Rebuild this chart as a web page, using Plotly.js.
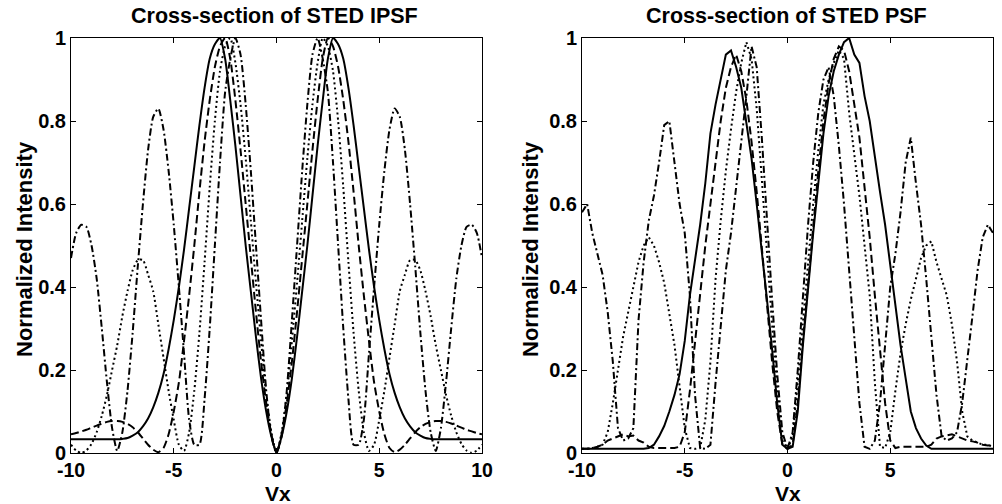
<!DOCTYPE html>
<html>
<head>
<meta charset="utf-8">
<script src="https://cdn.plot.ly/plotly-3.0.1.min.js"></script>
<style>
  html, body { margin: 0; padding: 0; background: #ffffff; }
  #chart { width: 1002px; height: 504px; }
</style>
</head>
<body>
<div id="chart"></div>
<script>
// ---------- data ----------
const Vx = [-10,-9.75,-9.5,-9.25,-9,-8.75,-8.5,-8.25,-8,-7.75,-7.5,-7.25,-7,-6.75,-6.5,-6.25,-6,-5.75,-5.5,-5.25,-5,-4.75,-4.5,-4.25,-4,-3.75,-3.5,-3.25,-3,-2.75,-2.5,-2.25,-2,-1.75,-1.5,-1.25,-1,-0.75,-0.5,-0.25,0,0.25,0.5,0.75,1,1.25,1.5,1.75,2,2.25,2.5,2.75,3,3.25,3.5,3.75,4,4.25,4.5,4.75,5,5.25,5.5,5.75,6,6.25,6.5,6.75,7,7.25,7.5,7.75,8,8.25,8.5,8.75,9,9.25,9.5,9.75,10];

const xTicks = [-10, -5, 0, 5, 10];
const yTicks = [0, 0.2, 0.4, 0.6, 0.8, 1];

const leftTitle = "Cross-section of STED IPSF";
const rightTitle = "Cross-section of STED PSF";
const xLabel = "Vx";
const yLabel = "Normalized Intensity";

// Left panel (ideal IPSF)
const ipsfSolid = [0.033,0.033,0.033,0.033,0.033,0.033,0.033,0.033,0.033,0.033,0.034,0.036,0.042,0.05,0.064,0.083,0.11,0.145,0.19,0.25,0.32,0.4,0.49,0.59,0.69,0.79,0.88,0.95,0.985,1.0,0.95,0.85,0.74,0.62,0.5,0.39,0.28,0.18,0.1,0.04,0,
  0.04,0.1,0.18,0.28,0.39,0.5,0.62,0.74,0.85,0.95,1.0,0.985,0.95,0.88,0.79,0.69,0.59,0.49,0.4,0.32,0.25,0.19,0.145,0.11,0.083,0.064,0.05,0.042,0.036,0.034,0.033,0.033,0.033,0.033,0.033,0.033,0.033,0.033,0.033,0.033];
const ipsfDash = [0.045,0.048,0.052,0.056,0.061,0.066,0.071,0.075,0.077,0.077,0.075,0.07,0.062,0.05,0.035,0.02,0.008,0.002,0.012,0.045,0.1,0.17,0.27,0.38,0.5,0.63,0.75,0.85,0.93,0.98,1.0,0.95,0.85,0.73,0.6,0.47,0.34,0.22,0.12,0.045,0,
  0.045,0.12,0.22,0.34,0.47,0.6,0.73,0.85,0.95,1.0,0.98,0.93,0.85,0.75,0.63,0.5,0.38,0.27,0.17,0.1,0.045,0.012,0.002,0.008,0.02,0.035,0.05,0.062,0.07,0.075,0.077,0.077,0.075,0.071,0.066,0.061,0.056,0.052,0.048,0.045];
const ipsfDot = [0.02,0.006,0,0.006,0.022,0.05,0.09,0.14,0.2,0.26,0.33,0.39,0.44,0.465,0.465,0.43,0.39,0.31,0.23,0.15,0.08,0.02,0.005,0.05,0.15,0.29,0.46,0.64,0.8,0.92,0.98,1.0,0.94,0.84,0.71,0.56,0.41,0.27,0.14,0.05,0,
  0.05,0.14,0.27,0.41,0.56,0.71,0.84,0.94,1.0,0.98,0.92,0.8,0.64,0.46,0.29,0.15,0.05,0.005,0.02,0.08,0.15,0.23,0.31,0.39,0.43,0.465,0.465,0.44,0.39,0.33,0.26,0.2,0.14,0.09,0.05,0.022,0.006,0,0.006,0.02];
const ipsfDashDot = [0.47,0.53,0.55,0.545,0.5,0.42,0.3,0.17,0.06,0.005,0.05,0.15,0.29,0.45,0.6,0.73,0.81,0.83,0.78,0.68,0.55,0.4,0.24,0.08,0.02,0.02,0.13,0.3,0.5,0.7,0.87,0.95,1.0,0.96,0.84,0.68,0.5,0.32,0.15,0.04,0,
  0.04,0.15,0.32,0.5,0.68,0.84,0.96,1.0,0.95,0.87,0.7,0.5,0.3,0.13,0.02,0.02,0.08,0.24,0.4,0.55,0.68,0.78,0.83,0.81,0.73,0.6,0.45,0.29,0.15,0.05,0.005,0.06,0.17,0.3,0.42,0.5,0.545,0.55,0.53,0.47];

// Right panel (measured STED PSF)
const psfSolid = [0.01,0.01,0.01,0.01,0.01,0.01,0.01,0.01,0.01,0.01,0.01,0.01,0.01,0.012,0.02,0.04,0.065,0.1,0.14,0.19,0.27,0.38,0.46,0.55,0.65,0.77,0.84,0.9,0.96,0.97,0.93,0.88,0.8,0.71,0.6,0.49,0.37,0.25,0.12,0.02,0.01,
  0.015,0.1,0.26,0.4,0.53,0.65,0.77,0.86,0.92,0.96,0.99,1.0,0.96,0.94,0.86,0.8,0.71,0.63,0.55,0.45,0.35,0.26,0.18,0.1,0.06,0.035,0.018,0.01,0.01,0.01,0.01,0.01,0.01,0.01,0.01,0.01,0.01,0.01,0.01,0.01];
const psfDash = [0.01,0.01,0.012,0.015,0.02,0.03,0.035,0.04,0.045,0.04,0.042,0.03,0.025,0.015,0.012,0.012,0.012,0.012,0.012,0.015,0.05,0.15,0.27,0.38,0.5,0.6,0.7,0.8,0.88,0.93,0.96,0.92,0.85,0.75,0.63,0.5,0.36,0.22,0.1,0.02,0.01,
  0.02,0.12,0.27,0.41,0.55,0.68,0.8,0.89,0.95,0.98,0.97,0.92,0.84,0.76,0.64,0.52,0.38,0.25,0.12,0.03,0.012,0.015,0.015,0.015,0.015,0.015,0.015,0.02,0.035,0.04,0.042,0.045,0.04,0.035,0.03,0.028,0.025,0.02,0.018,0.02];
const psfDot = [0.01,0.01,0.012,0.015,0.02,0.05,0.12,0.2,0.28,0.34,0.4,0.46,0.5,0.52,0.5,0.46,0.41,0.34,0.26,0.16,0.06,0.012,0.01,0.012,0.08,0.22,0.42,0.56,0.68,0.78,0.87,0.94,0.99,0.95,0.83,0.66,0.48,0.31,0.15,0.03,0.01,
  0.04,0.17,0.32,0.47,0.6,0.73,0.84,0.9,0.94,0.97,0.95,0.82,0.72,0.62,0.5,0.38,0.17,0.015,0.012,0.05,0.15,0.24,0.31,0.37,0.42,0.47,0.5,0.51,0.46,0.42,0.38,0.31,0.22,0.1,0.04,0.03,0.025,0.02,0.02,0.015];
const psfDashDot = [0.58,0.6,0.53,0.48,0.43,0.34,0.22,0.06,0.03,0.035,0.06,0.32,0.46,0.56,0.62,0.7,0.79,0.8,0.7,0.6,0.53,0.38,0.14,0.012,0.01,0.02,0.17,0.31,0.44,0.53,0.64,0.74,0.86,0.98,0.93,0.76,0.56,0.37,0.19,0.05,0.01,
  0.05,0.2,0.38,0.55,0.7,0.82,0.9,0.93,0.86,0.74,0.6,0.45,0.28,0.12,0.015,0.01,0.03,0.12,0.27,0.4,0.48,0.58,0.7,0.76,0.65,0.55,0.42,0.27,0.14,0.04,0.03,0.035,0.05,0.12,0.22,0.33,0.44,0.52,0.55,0.53];

// ---------- styles ----------
const FONT = "Liberation Sans, Arial, Helvetica, sans-serif";
const styles = {
  solid:   { color: "#000", width: 2, dash: "solid" },
  dash:    { color: "#000", width: 2, dash: "8px,4px" },
  dot:     { color: "#000", width: 2, dash: "2px,3px" },
  dashdot: { color: "#000", width: 2, dash: "7px,3px,2px,3px" }
};

function tr(y, st, xa, ya, shape) {
  return { x: Vx, y: y, type: "scatter", mode: "lines", xaxis: xa, yaxis: ya,
           line: Object.assign({ shape: shape, smoothing: 0.6 }, styles[st]),
           hoverinfo: "skip", showlegend: false };
}

const traces = [
  tr(ipsfSolid, "solid", "x", "y", "spline"),
  tr(ipsfDash, "dash", "x", "y", "spline"),
  tr(ipsfDot, "dot", "x", "y", "spline"),
  tr(ipsfDashDot, "dashdot", "x", "y", "spline"),
  tr(psfSolid, "solid", "x2", "y2", "linear"),
  tr(psfDash, "dash", "x2", "y2", "linear"),
  tr(psfDot, "dot", "x2", "y2", "linear"),
  tr(psfDashDot, "dashdot", "x2", "y2", "linear")
];

const tickFont = { family: FONT, size: 20, color: "#000", weight: "bold" };
const xTickFont = { family: FONT, size: 19.5, color: "#000", weight: "bold" };
function xax(domain, anchor) {
  return { domain: domain, anchor: anchor, range: [-10, 10], tickvals: xTicks, ticktext: xTicks.map(String),
           ticks: "inside", ticklen: 5, tickcolor: "#000", showline: true, linecolor: "#000", linewidth: 1,
           mirror: "ticks", showgrid: false, zeroline: false, tickfont: xTickFont, automargin: false, fixedrange: true };
}
function yax(domain, anchor) {
  return { domain: domain, anchor: anchor, range: [0, 1], tickvals: yTicks, ticktext: yTicks.map(String),
           ticks: "inside", ticklen: 5, tickcolor: "#000", showline: true, linecolor: "#000", linewidth: 1,
           mirror: "ticks", showgrid: false, zeroline: false, tickfont: tickFont, automargin: false, fixedrange: true };
}

const W = 1002, H = 504;
const yDom = [(H - 453) / H, (H - 38) / H];
const titleFont = { family: FONT, size: 21.5, color: "#000", weight: "bold" };
const xLabFont = { family: FONT, size: 21, color: "#000", weight: "bold" };
const yLabFont = { family: FONT, size: 22, color: "#000", weight: "bold" };

const layout = {
  width: W, height: H,
  margin: { l: 0, r: 0, t: 0, b: 0 },
  paper_bgcolor: "#fff", plot_bgcolor: "#fff",
  font: { family: FONT, color: "#000" },
  showlegend: false,
  xaxis: xax([71 / W, 482 / W], "y"),
  yaxis: yax(yDom, "x"),
  xaxis2: xax([582 / W, 993 / W], "y2"),
  yaxis2: yax(yDom, "x2"),
  annotations: [
    { text: leftTitle, xref: "paper", yref: "paper", x: 274 / W, y: (H - 16) / H, xanchor: "center", yanchor: "middle", showarrow: false, font: titleFont },
    { text: rightTitle, xref: "paper", yref: "paper", x: 786 / W, y: (H - 16) / H, xanchor: "center", yanchor: "middle", showarrow: false, font: titleFont },
    { text: xLabel, xref: "paper", yref: "paper", x: 278 / W, y: (H - 493) / H, xanchor: "center", yanchor: "middle", showarrow: false, font: xLabFont },
    { text: xLabel, xref: "paper", yref: "paper", x: 788 / W, y: (H - 493) / H, xanchor: "center", yanchor: "middle", showarrow: false, font: xLabFont },
    { text: yLabel, xref: "paper", yref: "paper", x: 24 / W, y: (H - 249) / H, xanchor: "center", yanchor: "middle", textangle: -90, showarrow: false, font: yLabFont },
    { text: yLabel, xref: "paper", yref: "paper", x: 530 / W, y: (H - 249) / H, xanchor: "center", yanchor: "middle", textangle: -90, showarrow: false, font: yLabFont }
  ]
};

Plotly.newPlot("chart", traces, layout, { staticPlot: true, displayModeBar: false });
</script>
</body>
</html>
